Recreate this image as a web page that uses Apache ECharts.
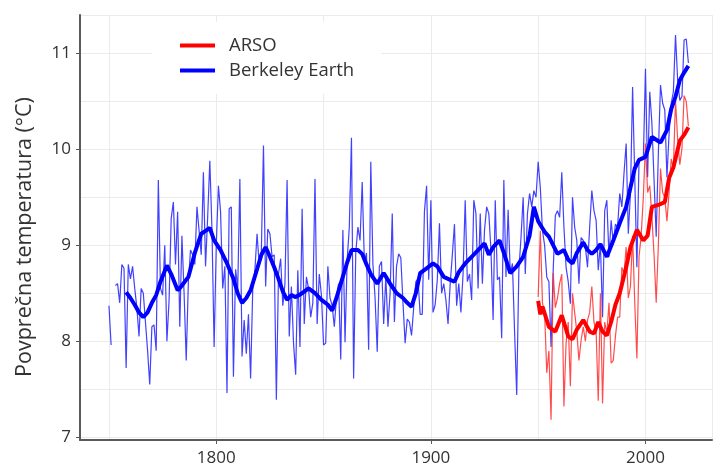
<!DOCTYPE html>
<html><head><meta charset="utf-8">
<script src="https://cdn.jsdelivr.net/npm/echarts@6/dist/echarts.min.js"></script>
<style>html,body{margin:0;padding:0;background:#fff}#c{width:714px;height:470px}</style>
</head><body><div id="c"></div>
<script>
// Berkeley Earth annual mean (1750..2020), null = missing year
const berkeleyStart = 1750;
const berkeleyAnnual = [
8.37,7.96,null,8.58,8.60,8.40,8.80,8.76,7.72,8.80,
8.65,8.78,8.55,8.35,8.05,8.55,8.50,8.20,7.90,7.55,
8.15,8.17,7.90,9.68,8.55,8.48,9.00,8.00,8.42,9.28,
9.45,8.80,9.35,8.15,9.10,8.50,7.80,8.62,8.95,8.90,
8.80,9.40,9.15,8.90,9.76,8.78,9.30,9.88,9.16,7.94,
9.00,9.62,9.35,8.55,8.78,7.46,9.38,9.40,7.63,8.75,
8.55,9.69,7.84,8.22,7.87,8.28,7.61,8.55,8.74,9.12,
8.80,8.93,10.04,8.57,9.17,9.12,8.88,8.90,7.39,8.70,
8.86,8.37,8.60,9.68,8.05,8.57,7.98,7.65,8.74,7.94,
9.38,8.18,8.67,8.55,8.25,8.40,9.69,8.18,8.70,8.48,
7.96,7.98,8.78,8.45,8.37,8.15,8.45,8.60,7.81,9.16,
7.99,8.85,9.19,10.12,7.61,8.92,9.19,9.05,9.66,8.83,
8.92,7.91,9.87,8.80,8.45,7.89,8.78,8.83,8.18,8.67,
8.15,8.50,9.33,8.20,8.78,8.91,8.87,8.40,7.98,8.23,
8.20,8.06,8.35,8.62,8.65,8.28,8.28,9.35,9.62,8.64,
9.47,8.30,8.38,8.64,9.23,8.50,8.60,8.43,8.18,8.60,
8.90,9.22,8.37,8.60,8.30,8.70,9.47,8.62,8.70,8.43,
9.47,9.33,8.55,9.33,8.60,9.16,9.40,9.33,8.95,8.22,
9.47,8.64,8.67,8.03,9.68,8.67,9.37,8.70,8.81,8.10,
7.44,8.74,9.08,9.50,8.70,9.33,9.54,9.40,9.57,9.50,
9.87,9.60,9.15,9.00,8.67,8.62,7.94,8.74,9.31,9.36,
9.29,9.76,9.19,8.77,8.62,8.39,9.50,9.19,9.05,8.60,
9.08,9.05,8.98,8.77,9.19,9.57,9.36,9.26,8.74,9.02,
8.25,9.36,9.47,8.88,9.26,9.02,9.22,9.19,9.54,9.40,
9.75,10.06,9.12,9.54,10.65,9.71,8.77,9.89,9.92,9.89,
10.84,9.71,10.60,10.27,9.68,9.09,9.96,10.67,10.48,10.41,
9.71,10.16,10.48,10.60,11.19,10.72,10.51,10.55,11.14,11.15,
10.90
];
// ARSO annual mean (1950..2020)
const arsoStart = 1950;
const arsoAnnual = [
8.46,9.15,8.40,8.30,7.67,7.90,7.18,8.71,8.35,8.45,
8.60,8.70,7.32,7.98,8.20,7.53,8.50,8.30,8.10,7.80,
8.01,8.15,8.00,8.22,8.30,8.57,8.20,8.10,7.38,8.50,
7.35,8.20,8.08,8.40,7.77,7.80,8.05,8.25,8.25,8.77,
8.70,8.98,8.45,8.57,9.10,8.40,7.82,8.88,9.10,9.50,
10.06,9.55,9.62,9.30,8.90,8.40,9.00,9.80,9.55,9.50,
9.25,9.55,9.90,9.80,10.51,10.10,9.84,10.01,10.56,10.50,
10.24
];
// smoothed curves (thick lines)
const berkeleySmoothYears = [1758,1760,1762,1764,1766,1768,1770,1772,1774,1777,1779,1782,1784,1787,1790,1793,1795,1797,1799,1802,1805,1808,1810,1812,1814,1816,1819,1821,1823,1825,1827,1829,1831,1833,1835,1837,1840,1843,1846,1849,1852,1854,1856,1858,1861,1863,1866,1868,1870,1872,1875,1878,1881,1884,1887,1889,1891,1893,1895,1898,1901,1903,1906,1908,1911,1913,1916,1919,1922,1925,1927,1929,1932,1934,1937,1940,1943,1946,1948,1950,1953,1955,1959,1962,1964,1966,1968,1971,1973,1975,1977,1979,1982,1985,1988,1991,1993,1995,1997,2000,2003,2005,2007,2010,2012,2014,2016,2018,2020];
const berkeleySmoothValues = [8.51,8.45,8.38,8.30,8.25,8.30,8.40,8.48,8.62,8.79,8.70,8.53,8.58,8.67,8.92,9.12,9.15,9.18,9.05,8.95,8.81,8.65,8.50,8.40,8.45,8.53,8.75,8.90,8.98,8.88,8.77,8.65,8.52,8.43,8.48,8.46,8.50,8.55,8.50,8.43,8.38,8.32,8.45,8.60,8.82,8.95,8.95,8.91,8.80,8.70,8.60,8.71,8.60,8.50,8.45,8.40,8.36,8.50,8.71,8.76,8.81,8.78,8.67,8.65,8.62,8.72,8.81,8.88,8.95,9.02,8.90,8.98,9.05,8.92,8.71,8.78,8.88,9.10,9.40,9.25,9.14,9.09,8.91,8.95,8.85,8.81,8.92,9.03,8.95,8.91,8.95,9.01,8.88,9.05,9.23,9.40,9.60,9.80,9.89,9.92,10.13,10.10,10.07,10.20,10.42,10.55,10.72,10.80,10.87];
const arsoSmoothYears = [1950,1951,1952,1955,1958,1961,1964,1966,1968,1971,1974,1976,1978,1980,1982,1984,1986,1988,1991,1993,1996,1999,2001,2003,2006,2009,2011,2013,2016,2018,2020];
const arsoSmoothValues = [8.42,8.28,8.36,8.15,8.10,8.27,8.05,8.02,8.12,8.22,8.10,8.08,8.20,8.10,8.06,8.20,8.38,8.50,8.77,8.98,9.16,9.05,9.10,9.40,9.42,9.45,9.70,9.81,10.09,10.15,10.23];

const xTickLabels = [1800, 1900, 2000];
const yTickLabels = [7, 8, 9, 10, 11];
const seriesNames = ['ARSO', 'Berkeley Earth'];
const yAxisTitle = 'Povprečna temperatura (°C)';

const FONT = '"Open Sans", "Liberation Sans", sans-serif';
const X_MIN = 1736.5, X_MAX = 2031, Y_MIN = 6.97, Y_MAX = 11.4;

const berkeleyData = berkeleyAnnual.map((v, i) => [berkeleyStart + i, v == null ? '-' : v]);
const arsoData = arsoAnnual.map((v, i) => [arsoStart + i, v]);
const berkeleySmooth = berkeleySmoothYears.map((y, i) => [y, berkeleySmoothValues[i]]);
const arsoSmooth = arsoSmoothYears.map((y, i) => [y, arsoSmoothValues[i]]);

const chart = echarts.init(document.getElementById('c'), null, {renderer: 'canvas'});
const gridColor = '#ebebeb';
const axisColor = '#5a5a5a';

chart.setOption({
  animation: false,
  backgroundColor: '#fff',
  grid: {left: 80, right: 2, top: 15, bottom: 30, containLabel: false},
  xAxis: [
    {type: 'value', min: X_MIN, max: X_MAX, minInterval: 50, maxInterval: 50,
     axisLine: {show: true, onZero: false, lineStyle: {color: axisColor, width: 2}},
     axisTick: {show: false}, axisLabel: {show: false},
     splitLine: {show: true, lineStyle: {color: gridColor, width: 1}}},
    {type: 'value', position: 'bottom', min: X_MIN, max: X_MAX, minInterval: 100, maxInterval: 100,
     axisLine: {show: false, onZero: false},
     axisTick: {show: true, length: 4, lineStyle: {color: axisColor}},
     axisLabel: {show: true, showMinLabel: false, showMaxLabel: false, margin: 10,
       fontSize: 17, fontFamily: FONT, color: '#333',
       formatter: v => xTickLabels.indexOf(v) >= 0 ? String(v) : ''},
     splitLine: {show: false}}
  ],
  yAxis: [
    {type: 'value', min: Y_MIN, max: Y_MAX, minInterval: 0.5, maxInterval: 0.5,
     axisLine: {show: true, onZero: false, lineStyle: {color: axisColor, width: 2}},
     axisTick: {show: false}, axisLabel: {show: false},
     splitLine: {show: true, lineStyle: {color: gridColor, width: 1}}},
    {type: 'value', position: 'left', min: Y_MIN, max: Y_MAX, minInterval: 1, maxInterval: 1,
     axisLine: {show: false, onZero: false},
     axisTick: {show: true, length: 4, lineStyle: {color: axisColor}},
     axisLabel: {show: true, showMinLabel: false, showMaxLabel: false, margin: 9,
       fontSize: 17, fontFamily: FONT, color: '#333',
       formatter: v => yTickLabels.indexOf(v) >= 0 ? String(v) : ''},
     splitLine: {show: false}}
  ],
  legend: {
    data: seriesNames, orient: 'vertical', left: 152, top: 22,
    padding: [14, 27, 14, 28], backgroundColor: '#fff',
    icon: 'rect', itemWidth: 35, itemHeight: 4, itemGap: 6,
    textStyle: {fontSize: 18.5, fontFamily: FONT, color: '#333', padding: [0, 0, 0, 9]}
  },
  graphic: [{
    type: 'text', x: 25, y: 237, rotation: Math.PI / 2,
    style: {text: yAxisTitle, font: '21.5px ' + FONT, fill: '#333', align: 'center', verticalAlign: 'middle'}
  }],
  series: [
    {name: 'Berkeley Earth annual', type: 'line', data: berkeleyData, xAxisIndex: 0, yAxisIndex: 0,
     showSymbol: false, connectNulls: false, lineStyle: {color: '#2020ff', width: 1.2, opacity: 0.85},
     itemStyle: {color: '#2020ff'}, z: 2, silent: true},
    {name: 'ARSO annual', type: 'line', data: arsoData, xAxisIndex: 0, yAxisIndex: 0,
     showSymbol: false, lineStyle: {color: '#ff2020', width: 1.2, opacity: 0.8},
     itemStyle: {color: '#ff2020'}, z: 3, silent: true},
    {name: 'Berkeley Earth', type: 'line', data: berkeleySmooth, xAxisIndex: 0, yAxisIndex: 0,
     showSymbol: false, lineStyle: {color: '#0000ff', width: 4},
     itemStyle: {color: '#0000ff'}, z: 4, silent: true},
    {name: 'ARSO', type: 'line', data: arsoSmooth, xAxisIndex: 0, yAxisIndex: 0,
     showSymbol: false, lineStyle: {color: '#ff0000', width: 4},
     itemStyle: {color: '#ff0000'}, z: 5, silent: true}
  ]
});
</script></body></html>
